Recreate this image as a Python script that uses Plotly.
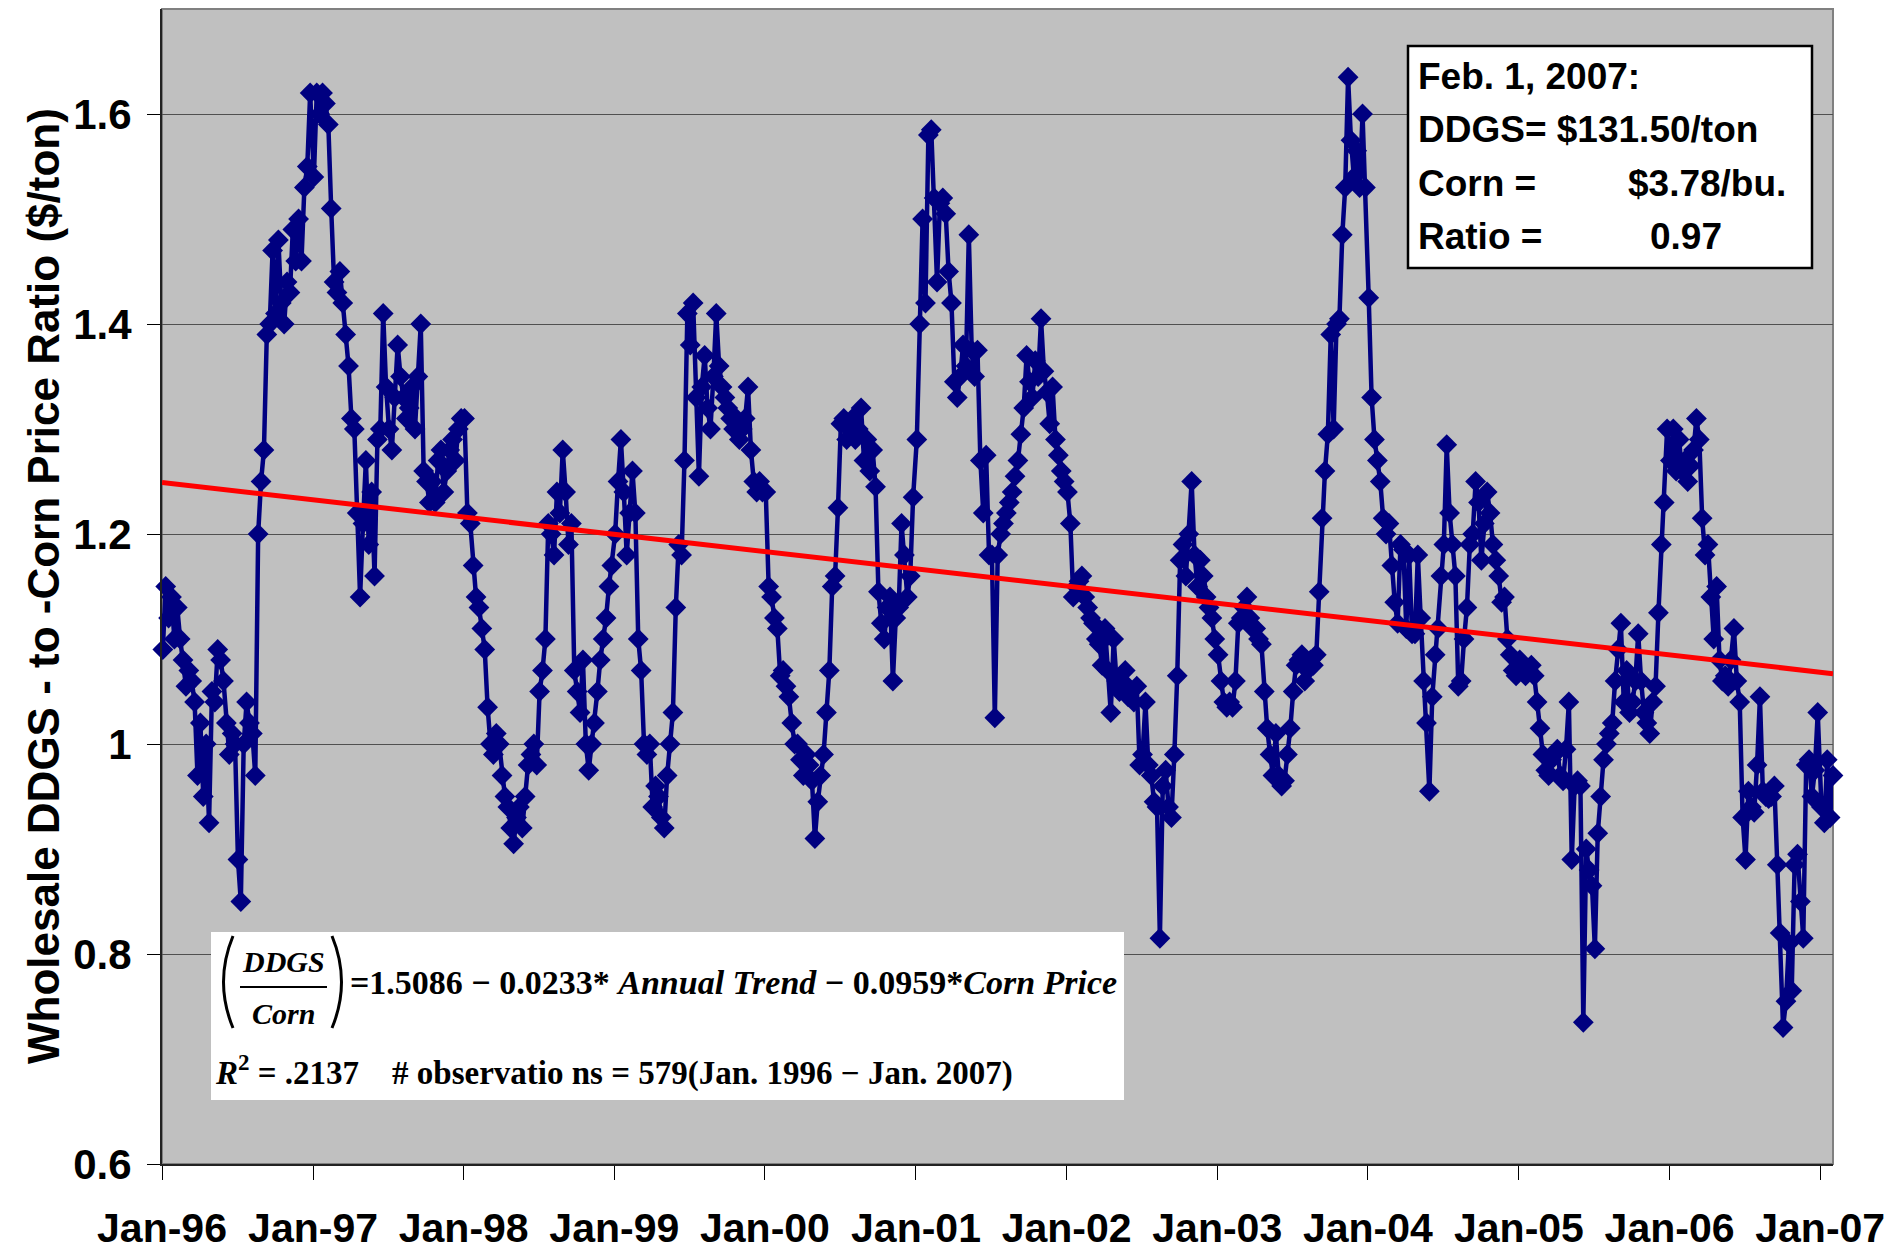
import plotly.graph_objects as go
import pandas as pd

# ---------------- data (weekly DDGS/corn price ratio) ----------------
y1996 = [1.09, 1.15, 1.12, 1.14, 1.10, 1.13, 1.10, 1.08, 1.055, 1.07,
         1.06, 1.04, 0.97, 1.02, 0.95, 1.00, 0.925, 1.05, 1.04, 1.09,
         1.08, 1.06, 1.02, 0.99, 1.01, 1.00, 0.89, 0.85, 1.00, 1.04,
         1.02, 1.01, 0.97, 1.20, 1.25, 1.28, 1.39, 1.40, 1.47, 1.41,
         1.48, 1.42, 1.40, 1.44, 1.43, 1.49, 1.46, 1.50, 1.46, 1.53,
         1.55, 1.62]
y1997 = [1.54, 1.62, 1.60, 1.62, 1.61, 1.59, 1.51, 1.44, 1.43, 1.45,
         1.42, 1.39, 1.36, 1.31, 1.30, 1.22, 1.14, 1.21, 1.27, 1.19,
         1.24, 1.16, 1.29, 1.30, 1.41, 1.34, 1.30, 1.28, 1.33, 1.38,
         1.35, 1.33, 1.31, 1.32, 1.34, 1.30, 1.35, 1.40, 1.26, 1.25,
         1.23, 1.25, 1.23, 1.27, 1.28, 1.24, 1.26, 1.28, 1.29, 1.27,
         1.30, 1.31]
y1998 = [1.31, 1.22, 1.21, 1.17, 1.14, 1.13, 1.11, 1.09, 1.035, 1.00,
         0.99, 1.01, 1.00, 0.97, 0.95, 0.94, 0.92, 0.905, 0.93, 0.94,
         0.92, 0.95, 0.98, 0.99, 1.00, 0.98, 1.05, 1.07, 1.10, 1.21,
         1.20, 1.18, 1.24, 1.22, 1.28, 1.24, 1.19, 1.21, 1.07, 1.05,
         1.03, 1.08, 1.00, 0.975, 1.00, 1.02, 1.05, 1.08, 1.10, 1.12,
         1.15, 1.17]
y1999 = [1.20, 1.25, 1.29, 1.24, 1.18, 1.22, 1.26, 1.22, 1.10, 1.07,
         1.00, 0.99, 1.00, 0.94, 0.96, 0.95, 0.93, 0.92, 0.97, 1.00,
         1.03, 1.13, 1.19, 1.18, 1.27, 1.41, 1.38, 1.42, 1.33, 1.255,
         1.34, 1.37, 1.32, 1.30, 1.35, 1.41, 1.36, 1.34, 1.33, 1.32,
         1.31, 1.30, 1.31, 1.29, 1.30, 1.31, 1.34, 1.28, 1.25, 1.24,
         1.25, 1.24]
y2000 = [1.24, 1.15, 1.14, 1.12, 1.11, 1.065, 1.07, 1.055, 1.045, 1.02,
         1.00, 1.00, 0.985, 0.97, 0.99, 0.98, 0.965, 0.91, 0.945, 0.97,
         0.99, 1.03, 1.07, 1.15, 1.16, 1.225, 1.305, 1.31, 1.29, 1.30,
         1.31, 1.29, 1.30, 1.32, 1.27, 1.29, 1.26, 1.28, 1.245, 1.145,
         1.115, 1.10, 1.13, 1.14, 1.06, 1.12, 1.13, 1.21, 1.18, 1.14,
         1.16, 1.235]
y2001 = [1.29, 1.40, 1.50, 1.42, 1.58, 1.585, 1.52, 1.44, 1.515, 1.52,
         1.505, 1.45, 1.42, 1.345, 1.33, 1.35, 1.38, 1.36, 1.485, 1.375,
         1.35, 1.375, 1.27, 1.22, 1.275, 1.18, 1.18, 1.025, 1.18, 1.20,
         1.21, 1.22, 1.23, 1.24, 1.255, 1.27, 1.295, 1.32, 1.37, 1.345,
         1.33, 1.365, 1.35, 1.405, 1.355, 1.335, 1.305, 1.34, 1.29, 1.275,
         1.26, 1.25]
y2002 = [1.24, 1.21, 1.14, 1.15, 1.155, 1.16, 1.14, 1.13, 1.12, 1.115,
         1.10, 1.095, 1.075, 1.11, 1.07, 1.03, 1.10, 1.06, 1.05, 1.06,
         1.07, 1.045, 1.05, 1.04, 1.055, 0.98, 0.99, 1.04, 0.98, 0.97,
         0.945, 0.94, 0.815, 0.96, 0.975, 0.94, 0.93, 0.99, 1.065, 1.175,
         1.19, 1.16, 1.20, 1.25, 1.18, 1.15, 1.175, 1.16, 1.14, 1.13,
         1.12, 1.10]
y2003 = [1.085, 1.06, 1.04, 1.035, 1.04, 1.035, 1.06, 1.115, 1.12, 1.13,
         1.14, 1.12, 1.11, 1.11, 1.10, 1.095, 1.05, 1.015, 0.99, 0.97,
         1.01, 0.97, 0.96, 0.965, 0.99, 1.015, 1.05, 1.075, 1.08, 1.085,
         1.06, 1.07, 1.08, 1.075, 1.085, 1.145, 1.215, 1.26, 1.295, 1.39,
         1.30, 1.40, 1.405, 1.485, 1.53, 1.635, 1.575, 1.54, 1.565, 1.53,
         1.60, 1.53]
y2004 = [1.425, 1.33, 1.29, 1.27, 1.25, 1.215, 1.20, 1.21, 1.17, 1.135,
         1.115, 1.19, 1.185, 1.11, 1.18, 1.105, 1.105, 1.18, 1.12, 1.06,
         1.02, 0.955, 1.045, 1.085, 1.11, 1.16, 1.19, 1.285, 1.22, 1.19,
         1.16, 1.055, 1.06, 1.10, 1.13, 1.19, 1.20, 1.25, 1.23, 1.175,
         1.21, 1.24, 1.22, 1.19, 1.175, 1.16, 1.135, 1.14, 1.10, 1.085,
         1.07, 1.065]
y2005 = [1.08, 1.07, 1.065, 1.07, 1.075, 1.065, 1.04, 1.015, 0.99, 0.975,
         0.97, 0.985, 0.99, 0.995, 0.97, 0.965, 0.995, 1.04, 0.89, 0.96,
         0.965, 0.96, 0.735, 0.90, 0.88, 0.865, 0.805, 0.915, 0.95, 0.985,
         1.00, 1.01, 1.02, 1.06, 1.09, 1.115, 1.04, 1.07, 1.03, 1.04,
         1.06, 1.105, 1.06, 1.03, 1.02, 1.01, 1.04, 1.055, 1.125, 1.19,
         1.23, 1.30]
y2006 = [1.27, 1.30, 1.26, 1.29, 1.26, 1.27, 1.25, 1.265, 1.28, 1.31,
         1.29, 1.215, 1.18, 1.19, 1.14, 1.10, 1.15, 1.08, 1.06, 1.065,
         1.055, 1.08, 1.11, 1.06, 1.04, 0.93, 0.89, 0.955, 0.94, 0.935,
         0.98, 1.045, 0.955, 0.95, 0.948, 0.95, 0.96, 0.885, 0.82, 0.73,
         0.755, 0.81, 0.765, 0.885, 0.895, 0.85, 0.815, 0.98, 0.985, 0.95,
         0.975, 1.03]
y2007 = [0.94, 0.925, 0.985, 0.93, 0.97]

years = [1996, 1997, 1998, 1999, 2000, 2001, 2002, 2003, 2004, 2005, 2006, 2007]
year_series = [y1996, y1997, y1998, y1999, y2000, y2001, y2002, y2003,
               y2004, y2005, y2006, y2007]
year_start_day = ["01-03"] * 11 + ["01-04"]

trend_dates = ["1996-01-01", "2007-02-01"]
trend_vals = [1.249, 1.067]

x_tick_dates = ["1996-01-01", "1997-01-01", "1998-01-01", "1999-01-01", "2000-01-01",
                "2001-01-01", "2002-01-01", "2003-01-01", "2004-01-01", "2005-01-01",
                "2006-01-01", "2007-01-01"]
x_tick_labels = ["Jan-96", "Jan-97", "Jan-98", "Jan-99", "Jan-00", "Jan-01",
                 "Jan-02", "Jan-03", "Jan-04", "Jan-05", "Jan-06", "Jan-07"]
y_tick_vals = [0.6, 0.8, 1.0, 1.2, 1.4, 1.6]
y_tick_labels = ["0.6", "0.8", "1", "1.2", "1.4", "1.6"]

# ---------------- build weekly series ----------------
dates, vals = [], []
for yr, sd, v in zip(years, year_start_day, year_series):
    dates += list(pd.date_range(f"{yr}-{sd}", periods=len(v), freq="7D"))
    vals += v

# ---------------- geometry helpers (pixel -> paper) ----------------
W, H = 1895, 1250
L, R, T, B = 162, 1833, 9, 1164


def px(x):
    return (x - L) / (R - L)


def py(y):
    return (B - y) / (B - T)


SANS = "Liberation Sans, Arial, sans-serif"
SERIF = "Liberation Serif, Times New Roman, serif"
NAVY = "#000080"

fig = go.Figure()
fig.add_trace(go.Scatter(
    x=dates, y=vals, mode="lines+markers",
    line=dict(color=NAVY, width=4.5),
    marker=dict(symbol="diamond", size=16, color=NAVY),
    cliponaxis=False, hoverinfo="skip"))
fig.add_trace(go.Scatter(
    x=trend_dates, y=trend_vals, mode="lines",
    line=dict(color="#FF0000", width=5), hoverinfo="skip"))

shapes = []
# plot border
shapes.append(dict(type="rect", xref="paper", yref="paper", x0=0, x1=1, y0=0, y1=1,
                   line=dict(color="#808080", width=2), layer="below"))
# equation box
shapes.append(dict(type="rect", xref="paper", yref="paper",
                   x0=px(211), x1=px(1124), y0=py(1100), y1=py(932),
                   fillcolor="white", line=dict(width=0), layer="above"))
# info box
shapes.append(dict(type="rect", xref="paper", yref="paper",
                   x0=px(1408), x1=px(1812), y0=py(268), y1=py(46),
                   fillcolor="white", line=dict(color="black", width=2.5), layer="above"))
# fraction bar
shapes.append(dict(type="line", xref="paper", yref="paper",
                   x0=px(240), x1=px(327), y0=py(987), y1=py(987),
                   line=dict(color="black", width=2), layer="above"))
# parentheses
for (xa, xc) in [(233, 214), (332, 351)]:
    path = (f"M {px(xa)},{py(936)} Q {px(xc)},{py(982)} {px(xa)},{py(1028)}")
    shapes.append(dict(type="path", xref="paper", yref="paper", path=path,
                       line=dict(color="black", width=3), layer="above"))

ann = []


def A(text, x, y, size, family=SANS, xanchor="left", bold=True, angle=0):
    ann.append(dict(text=(f"<b>{text}</b>" if bold else text), x=x, y=y,
                    xref="paper", yref="paper", xanchor=xanchor, yanchor="middle",
                    showarrow=False, textangle=angle,
                    font=dict(family=family, size=size, color="black")))


# y-axis title
A("Wholesale DDGS - to -Corn Price Ratio ($/ton)", px(43), py(586), 44,
  xanchor="center", angle=-90)

# info box text
A("Feb. 1, 2007:", px(1416), py(77), 37)
A("DDGS= $131.50/ton", px(1416), py(129), 37)
A("Corn =", px(1416), py(184), 37)
A("$3.78/bu.", px(1788), py(184), 37, xanchor="right")
A("Ratio =", px(1416), py(236), 37)
A("0.97", px(1686), py(236), 37, xanchor="center")

# equation text
A("<i>DDGS</i>", px(283), py(961), 30, family=SERIF, xanchor="center")
A("<i>Corn</i>", px(283), py(1013), 30, family=SERIF, xanchor="center")
A("=1.5086 \u2212 0.0233* <i>Annual Trend</i> \u2212 0.0959*<i>Corn Price</i>",
  px(348), py(982), 34, family=SERIF)
A("<i>R</i><sup>2</sup> = .2137\u00a0\u00a0\u00a0\u00a0# observatio ns = 579(Jan. 1996 \u2212 Jan. 2007)",
  px(213), py(1070), 33, family=SERIF)

fig.update_layout(
    width=W, height=H,
    margin=dict(l=L, r=W - R, t=T, b=H - B, autoexpand=False),
    paper_bgcolor="white", plot_bgcolor="#C0C0C0",
    showlegend=False,
    shapes=shapes, annotations=ann,
    xaxis=dict(type="date", range=["1996-01-01", "2007-02-01"],
               tickmode="array", tickvals=x_tick_dates, ticktext=x_tick_labels,
               ticks="outside", ticklen=14, tickwidth=1, tickcolor="black",
               showgrid=False, zeroline=False, automargin=False,
               showline=True, linecolor="#222222", linewidth=2,
               tickfont=dict(family=SANS, size=41, color="black", weight="bold"),
               ticklabelstandoff=13),
    yaxis=dict(range=[0.6, 1.7], tickmode="array", tickvals=y_tick_vals,
               ticktext=y_tick_labels, automargin=False,
               ticks="outside", ticklen=13, tickwidth=1, tickcolor="black",
               showgrid=True, gridcolor="#505050", gridwidth=1, zeroline=False,
               showline=True, linecolor="#222222", linewidth=2,
               tickfont=dict(family=SANS, size=42, color="black", weight="bold"),
               ticklabelstandoff=7),
)

fig.write_html("out.html", config={"displayModeBar": False},
               post_script="document.body.style.margin='0';document.body.style.overflow='hidden';")
